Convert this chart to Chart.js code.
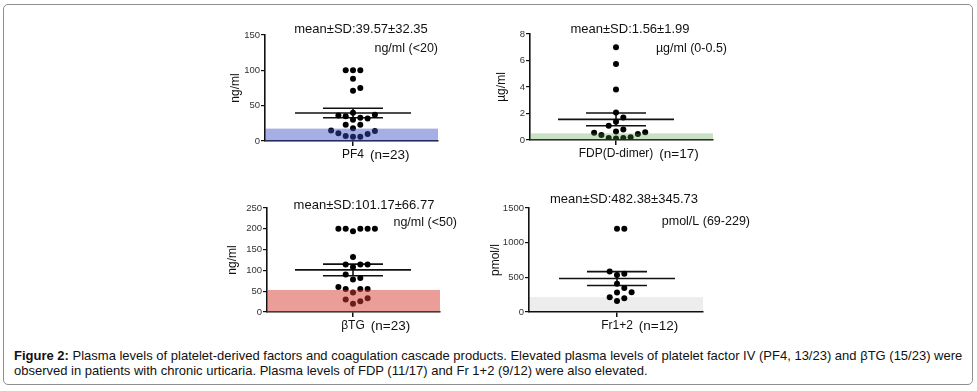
<!DOCTYPE html>
<html>
<head>
<meta charset="utf-8">
<script src="https://cdn.jsdelivr.net/npm/chart.js@4.4.1/dist/chart.umd.min.js"></script>
<style>
  html, body { margin: 0; padding: 0; background: #fff; }
  body { width: 977px; height: 391px; position: relative; overflow: hidden; font-family: "Liberation Sans", Arial, sans-serif; }
  .frame { position: absolute; left: 3px; top: 4px; width: 970px; height: 381px; border: 1px solid #8e8e8e; border-radius: 5px; box-sizing: border-box; }
  .panel { position: absolute; }
  .caption { position: absolute; left: 14px; top: 348px; font-size: 13px; line-height: 15px; color: #111; white-space: nowrap; }
</style>
</head>
<body>
<div class="frame"></div>
<canvas id="c0" class="panel"></canvas>
<canvas id="c1" class="panel"></canvas>
<canvas id="c2" class="panel"></canvas>
<canvas id="c3" class="panel"></canvas>
<div class="caption"><b>Figure 2:</b> Plasma levels of platelet-derived factors and coagulation cascade products. Elevated plasma levels of platelet factor IV (PF4, 13/23) and βTG (15/23) were<br>observed in patients with chronic urticaria. Plasma levels of FDP (11/17) and Fr 1+2 (9/12) were also elevated.</div>
<script>
// values
const categoryNames = ["PF4", "FDP(D-dimer)", "βTG", "Fr1+2"];
const axisTitles = ["ng/ml", "µg/ml", "ng/ml", "pmol/l"];
const unitNotes = ["ng/ml (<20)", "µg/ml (0-0.5)", "ng/ml (<50)", "pmol/L (69-229)"];
const meanValues = [39.57, 1.56, 101.17, 482.38];
const sdValues = [32.35, 1.99, 66.77, 345.73];
const normalUpper = [17.5, 0.5, 53, 215];
const yMaxValues = [150, 8, 250, 1500];
const yStepValues = [50, 2, 50, 500];

const pf4Values = [100, 100, 100, 88, 75, 71, 40, 37, 36, 35, 33, 32, 30, 23, 23, 18, 15, 14, 11, 10, 7, 6, 6];
const fdpValues = [7.0, 5.73, 3.81, 2.08, 1.7, 1.38, 1.08, 0.8, 0.65, 0.58, 0.55, 0.45, 0.38, 0.2, 0.15, 0.15, 0.12];
const btgValues = [200, 200, 200, 200, 200, 194, 132, 114, 114, 114, 108, 90, 82, 78, 60, 55, 55, 55, 47, 33, 30, 26, 20];
const frValues = [1200, 1200, 585, 552, 535, 408, 346, 286, 282, 214, 200, 158];
const seriesValues = [pf4Values, fdpValues, btgValues, frValues];

// look
const bandColors = ["rgba(56,78,200,0.45)", "rgba(73,157,57,0.3)", "rgba(216,59,49,0.5)", "rgba(0,0,0,0.07)"];
const INK = "#111";
const FONT = "'Liberation Sans', Arial, sans-serif";
const DOT_STEP = 7.3;      // px between swarm columns
const ROW_GAP = 7;         // px, dots closer than this go to another column
const MEAN_HALF = 58;      // px
const SEM_HALF = 30;       // px

// plot rectangles in page pixels (left, right, top, bottom, tick centre, y title centre)
const panelFrames = [
  { left: 265, right: 438, top: 35, bottom: 141, center: 353, titleX: 236, head: [361, 29], note: [438, 49] },
  { left: 530, right: 713, top: 34, bottom: 140, center: 616, titleX: 501.5, head: [630, 29], note: [727, 49] },
  { left: 267, right: 440, top: 208, bottom: 312, center: 353, titleX: 232.5, head: [364, 205], note: [457, 223] },
  { left: 529, right: 703, top: 208, bottom: 312, center: 617, titleX: 496, head: [624, 199], note: [750, 222] },
];
const PAD_TOP = 32, PAD_RIGHT = 64, X_AXIS_H = 28, PAD_BOTTOM = 8;

function swarm(values, yMax, plotH) {
  const placed = [];
  const sorted = [...values].sort((a, b) => a - b);
  for (const v of sorted) {
    const yPx = v / yMax * plotH;
    for (let k = 0; k < 40; k++) {
      const col = k === 0 ? 0 : (k % 2 ? (k + 1) / 2 : -k / 2);
      const hit = placed.some((p) => p.x === col && Math.abs(p.yPx - yPx) < ROW_GAP);
      if (!hit) { placed.push({ x: col, y: v, yPx }); break; }
    }
  }
  return placed.map((p) => ({ x: p.x, y: p.y }));
}

const panelDecor = {
  id: "panelDecor",
  afterDatasetsDraw(chart, args, o) {
    const { ctx, chartArea, scales } = chart;
    const yTop = scales.y.getPixelForValue(o.band);
    const y0 = scales.y.getPixelForValue(0);
    ctx.save();
    ctx.fillStyle = o.bandColor;
    ctx.fillRect(chartArea.left, yTop, chartArea.right - chartArea.left, y0 - yTop);
    ctx.restore();
  },
  afterDraw(chart, args, o) {
    const { ctx } = chart;
    ctx.save();
    ctx.fillStyle = INK;
    ctx.textBaseline = "middle";
    ctx.font = "13px " + FONT;
    ctx.textAlign = "center";
    ctx.fillText(o.head, o.headX, o.headY);
    ctx.font = "12.5px " + FONT;
    ctx.textAlign = "right";
    ctx.fillText(o.note, o.noteX, o.noteY);
    // (n=..) next to the category label
    const xs = chart.scales.x;
    ctx.font = "12px " + FONT;
    const catW = ctx.measureText(o.cat).width;
    ctx.font = "13.5px " + FONT;
    ctx.textAlign = "left";
    ctx.fillText("(n=" + o.n + ")", xs.getPixelForValue(0) + catW / 2 + 6, xs.top + 14);
    ctx.restore();
  },
};

seriesValues.forEach((vals, i) => {
  const f = panelFrames[i];
  const canvasLeft = Math.round(f.titleX - 8.6);
  const canvasTop = f.top - PAD_TOP;
  const width = f.right - canvasLeft + PAD_RIGHT;
  const height = PAD_TOP + (f.bottom - f.top) + X_AXIS_H + PAD_BOTTOM;
  const el = document.getElementById("c" + i);
  el.style.left = canvasLeft + "px";
  el.style.top = canvasTop + "px";
  el.style.width = width + "px";
  el.style.height = height + "px";
  el.width = width;
  el.height = height;

  const n = vals.length;
  const mean = meanValues[i];
  const sem = sdValues[i] / Math.sqrt(n);
  const mh = MEAN_HALF / DOT_STEP, sh = SEM_HALF / DOT_STEP;
  const lineSet = (data) => ({ data, showLine: true, borderColor: INK, borderWidth: 1.6, pointRadius: 0 });

  new Chart(el.getContext("2d"), {
    type: "scatter",
    data: {
      datasets: [
        { data: swarm(vals, yMaxValues[i], f.bottom - f.top), pointRadius: 3, backgroundColor: "#000", borderWidth: 0 },
        lineSet([{ x: -mh, y: mean }, { x: mh, y: mean }]),
        lineSet([{ x: -sh, y: mean + sem }, { x: sh, y: mean + sem }]),
        lineSet([{ x: -sh, y: mean - sem }, { x: sh, y: mean - sem }]),
        lineSet([{ x: 0, y: mean - sem }, { x: 0, y: mean + sem }]),
      ],
    },
    options: {
      responsive: false,
      animation: false,
      events: [],
      layout: { padding: { left: 0, top: PAD_TOP, right: PAD_RIGHT, bottom: PAD_BOTTOM } },
      plugins: {
        legend: { display: false },
        tooltip: { enabled: false },
        panelDecor: {
          band: normalUpper[i], bandColor: bandColors[i],
          head: "mean±SD:" + meanValues[i].toFixed(2) + "±" + sdValues[i].toFixed(2),
          headX: f.head[0] - canvasLeft, headY: f.head[1] - canvasTop,
          note: unitNotes[i], noteX: f.note[0] - canvasLeft, noteY: f.note[1] - canvasTop,
          cat: categoryNames[i], n,
        },
      },
      scales: {
        x: {
          type: "linear",
          z: 1,
          min: -(f.center - f.left) / DOT_STEP,
          max: (f.right - f.center) / DOT_STEP,
          afterBuildTicks: (s) => { s.ticks = [{ value: 0 }]; },
          afterFit: (s) => { s.height = X_AXIS_H; },
          ticks: { callback: () => categoryNames[i], color: INK, font: { size: 12, family: FONT }, padding: 1, maxRotation: 0 },
          grid: { drawOnChartArea: false, drawTicks: true, tickLength: 5, color: INK, lineWidth: 1.5 },
          border: { color: INK, width: 1.6 },
        },
        y: {
          z: 1,
          min: 0,
          max: yMaxValues[i],
          afterFit: (s) => { s.width = f.left - canvasLeft; },
          ticks: { stepSize: yStepValues[i], callback: (v) => String(v), color: "#333", font: { size: 9.5, family: FONT }, padding: 1 },
          grid: { drawOnChartArea: false, drawTicks: true, tickLength: 4, color: INK, lineWidth: 1.2 },
          border: { color: INK, width: 1.6 },
          title: { display: true, text: axisTitles[i], color: INK, font: { size: 12, family: FONT }, padding: { top: 1, bottom: 0 } },
        },
      },
    },
    plugins: [panelDecor],
  });
});
</script>
</body>
</html>
